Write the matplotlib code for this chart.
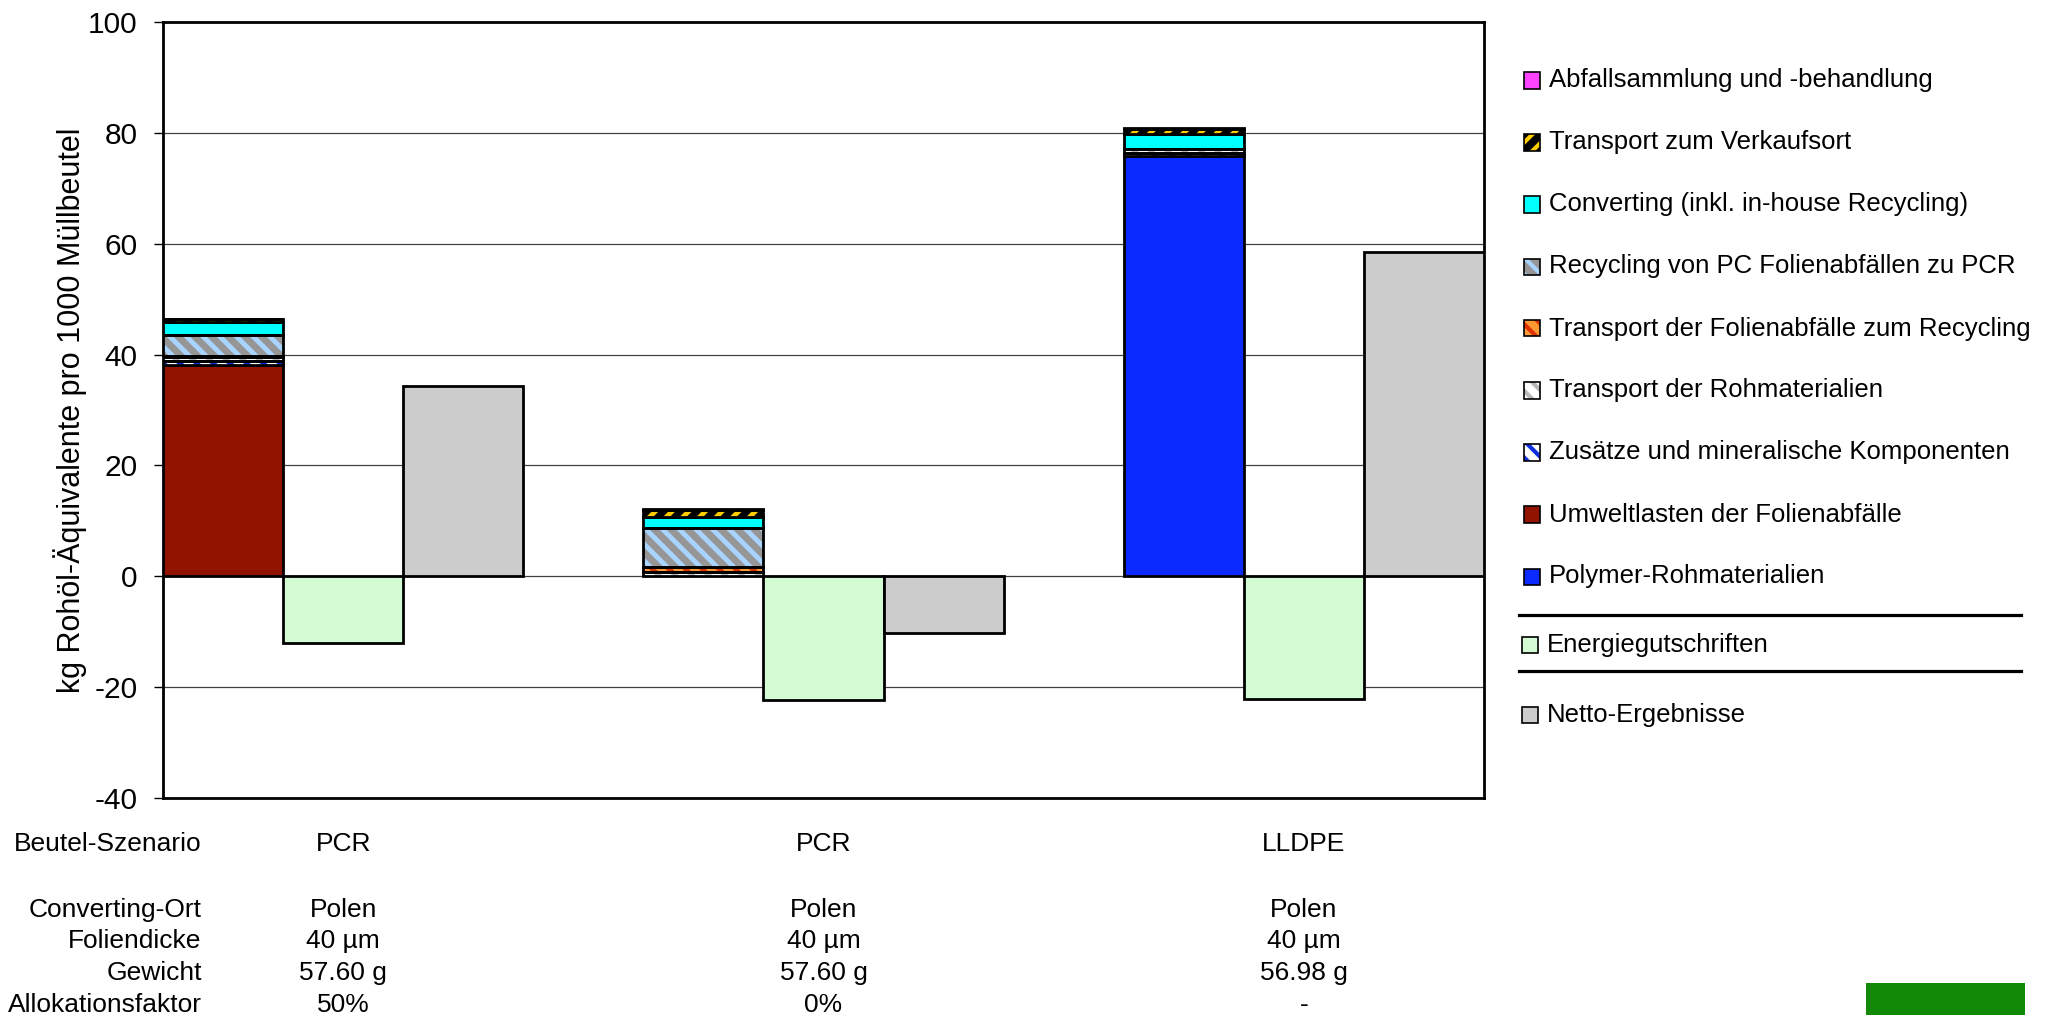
import matplotlib
matplotlib.use("Agg")
import matplotlib.pyplot as plt
from matplotlib.patches import Rectangle
from matplotlib.lines import Line2D
import matplotlib.transforms as mtransforms

plt.rcParams['font.family'] = ['Liberation Sans', 'DejaVu Sans']
plt.rcParams['axes.unicode_minus'] = False

# bar slots: stacked burden, energy credit, net result per scenario
stack_x = [0, 4, 8]
credit_x = [1, 5, 9]
net_x = [2, 6, 10]

# stacked contributions, bottom to top (kg crude oil eq. per 1000 bags)
polymer = [0.0, 0.0, 75.9]
umweltlasten = [38.2, 0.0, 0.0]
zusaetze = [0.6, 0.0, 0.5]
transport_roh = [0.8, 0.8, 0.7]
transport_folien = [0.2, 0.9, 0.0]
recycling = [3.8, 6.95, 0.0]
converting = [2.3, 2.1, 2.7]
transport_verkauf = [0.5, 1.25, 1.0]
abfall = [0.1, 0.1, 0.2]

credits = [-12.1, -22.4, -22.1]
net = [34.4, -10.3, 58.6]

layer_labels = [
    'Polymer-Rohmaterialien',
    'Umweltlasten der Folienabfälle',
    'Zusätze und mineralische Komponenten',
    'Transport der Rohmaterialien',
    'Transport der Folienabfälle zum Recycling',
    'Recycling von PC Folienabfällen zu PCR',
    'Converting (inkl. in-house Recycling)',
    'Transport zum Verkaufsort',
    'Abfallsammlung und -behandlung',
]
layer_values = [polymer, umweltlasten, zusaetze, transport_roh, transport_folien,
                recycling, converting, transport_verkauf, abfall]

# face colour, hatch, hatch colour, hatch linewidth
layer_styles = [
    ('#0A2AFF', None, None, 0),
    ('#921400', None, None, 0),
    ('white', '\\\\', '#1030E0', 3.5),
    ('white', '\\\\', '#B8B8B8', 3.5),
    ('#FF9933', '\\\\', '#E03000', 3.5),
    ('#969696', '\\\\', '#A8D4FF', 3.5),
    ('#00FFFF', None, None, 0),
    ('black', '//', '#FFCC00', 3.5),
    ('#FF44FF', None, None, 0),
]
credit_color = '#D4FCD4'
net_color = '#CCCCCC'

row_labels = ['Beutel-Szenario', 'Converting-Ort', 'Foliendicke', 'Gewicht', 'Allokationsfaktor']
scenario = ['PCR', 'PCR', 'LLDPE']
ort = ['Polen', 'Polen', 'Polen']
dicke = ['40 µm', '40 µm', '40 µm']
gewicht = ['57.60 g', '57.60 g', '56.98 g']
allokation = ['50%', '0%', '-']

W, H = 2048, 1015
EDGE = 2.0


def fx(px):
    return px / W


def fy(py):
    return 1 - py / H


def hatched(patch, hatch_lw):
    if hasattr(patch, 'set_hatch_linewidth'):
        patch.set_hatch_linewidth(hatch_lw)


fig = plt.figure(figsize=(W / 100, H / 100), dpi=100)
ax = fig.add_axes([fx(163), fy(797.7), (1484 - 163) / W, (797.7 - 22.3) / H])

# stacked bars
bottoms = [0.0, 0.0, 0.0]
for vals, (face, hatch, hcol, hlw) in zip(layer_values, layer_styles):
    for i, x in enumerate(stack_x):
        v = vals[i]
        if v <= 0:
            continue
        if hatch:
            plt.rcParams['hatch.linewidth'] = hlw
            bars = ax.bar(x, v, bottom=bottoms[i], width=1.0, color=face,
                          hatch=hatch, edgecolor=hcol, linewidth=0, zorder=3)
            for b in bars:
                hatched(b, hlw)
            ax.bar(x, v, bottom=bottoms[i], width=1.0, fill=False,
                   edgecolor='black', linewidth=EDGE, zorder=4)
        else:
            ax.bar(x, v, bottom=bottoms[i], width=1.0, color=face,
                   edgecolor='black', linewidth=EDGE, zorder=3)
        bottoms[i] += v

ax.bar(credit_x, credits, width=1.0, color=credit_color, edgecolor='black',
       linewidth=EDGE, zorder=3)
ax.bar(net_x, net, width=1.0, color=net_color, edgecolor='black',
       linewidth=EDGE, zorder=3)

ax.set_xlim(-0.5, 10.5)
ax.set_ylim(-40, 100)
ax.set_yticks(range(-40, 101, 20))
ax.set_xticks([])
ax.tick_params(axis='y', labelsize=21.5, length=6.5, width=1, pad=12)
for y in range(-20, 100, 20):
    ax.axhline(y, color='#404040', linewidth=0.9, zorder=1)
for s in ax.spines.values():
    s.set_linewidth(2.0)
ax.set_ylabel('kg Rohöl-Äquivalente pro 1000 Müllbeutel', fontsize=22, va='center')
ax.yaxis.set_label_coords(-0.0705, 0.5)

# info table below the chart
trans = mtransforms.blended_transform_factory(ax.transData, fig.transFigure)
row_base = [850.7, 916.7, 948.3, 980.0, 1011.7]
row_values = [scenario, ort, dicke, gewicht, allokation]
for label, base, values in zip(row_labels, row_base, row_values):
    fig.text(fx(201.7), fy(base), label, ha='right', va='baseline', fontsize=19)
    for x, v in zip(credit_x, values):
        ax.text(x, fy(base), v, transform=trans, ha='center', va='baseline',
                fontsize=19, clip_on=False)

# legend drawn by hand (with separator lines)
legend_rows = list(zip(layer_labels, layer_styles))[::-1]
for k, (label, (face, hatch, hcol, hlw)) in enumerate(legend_rows):
    yc = 80.5 + 62.0 * k
    if hatch:
        plt.rcParams['hatch.linewidth'] = 3.0
        p = Rectangle((fx(1524), fy(yc + 8)), 16 / W, 16 / H, transform=fig.transFigure,
                      facecolor=face, hatch=hatch, edgecolor=hcol, linewidth=0)
        hatched(p, 3.0)
        fig.add_artist(p)
        fig.add_artist(Rectangle((fx(1524), fy(yc + 8)), 16 / W, 16 / H,
                                 transform=fig.transFigure, fill=False,
                                 edgecolor='black', linewidth=1.2))
    else:
        fig.add_artist(Rectangle((fx(1524), fy(yc + 8)), 16 / W, 16 / H,
                                 transform=fig.transFigure, facecolor=face,
                                 edgecolor='black', linewidth=1.2))
    fig.text(fx(1549), fy(yc), label, ha='left', va='center', fontsize=18.5)

for yc, label, face in [(645, 'Energiegutschriften', credit_color),
                        (715, 'Netto-Ergebnisse', net_color)]:
    fig.add_artist(Rectangle((fx(1522), fy(yc + 8)), 16 / W, 16 / H,
                             transform=fig.transFigure, facecolor=face,
                             edgecolor='black', linewidth=1.2))
    fig.text(fx(1547), fy(yc), label, ha='left', va='center', fontsize=18.5)

for yl in [615, 671]:
    fig.add_artist(Line2D([fx(1519), fx(2021)], [fy(yl), fy(yl)],
                          transform=fig.transFigure, color='black', linewidth=2.3))

# logo block in the corner
fig.add_artist(Rectangle((fx(1866), 0), 159 / W, 32 / H, transform=fig.transFigure,
                         facecolor='#138A07', edgecolor='none'))

fig.savefig('out.png', dpi=100)
